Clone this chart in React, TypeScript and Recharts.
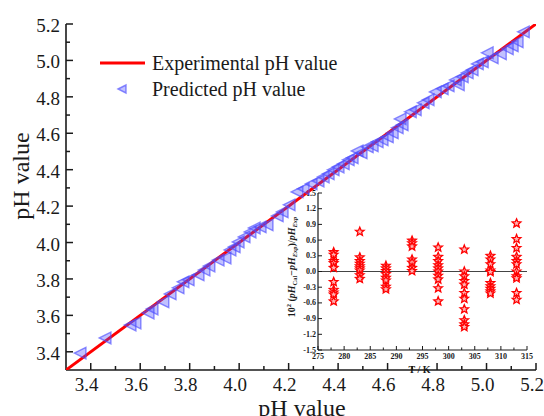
import React from 'react'
import { ScatterChart, Scatter, XAxis, YAxis, Legend, ReferenceLine } from 'recharts'

const SERIF = "'Liberation Serif', 'Times New Roman', Times, serif"
const INK = '#1a1a1a'
const TRI = '#4d4dff'

// measured pH (x) and model prediction (y), one pair per sample
const expPH = [
  3.357, 3.458, 3.559, 3.579, 3.632, 3.648, 3.692, 3.721, 3.753, 3.773,
  3.794, 3.834, 3.858, 3.878, 3.915, 3.943, 3.963, 3.98, 3.996, 4.02,
  4.044, 4.061, 4.085, 4.113, 4.154, 4.174, 4.202, 4.234, 4.259, 4.291,
  4.319, 4.34, 4.36, 4.38, 4.4, 4.421, 4.441, 4.457, 4.477, 4.493,
  4.518, 4.538, 4.558, 4.578, 4.599, 4.619, 4.639, 4.651, 4.659, 4.692,
  4.712, 4.744, 4.764, 4.793, 4.821, 4.845, 4.874, 4.886, 4.902, 4.922,
  4.942, 4.963, 4.983, 5.003, 5.023, 5.056, 5.084, 5.104, 5.124, 5.149,
]
const predPH = [
  3.393, 3.476, 3.547, 3.558, 3.613, 3.635, 3.674, 3.718, 3.751, 3.784,
  3.795, 3.822, 3.849, 3.871, 3.904, 3.915, 3.959, 3.976, 4.003, 4.031,
  4.058, 4.08, 4.086, 4.097, 4.146, 4.168, 4.207, 4.278, 4.295, 4.322,
  4.338, 4.36, 4.377, 4.399, 4.415, 4.432, 4.454, 4.465, 4.503, 4.492,
  4.525, 4.531, 4.553, 4.564, 4.58, 4.602, 4.63, 4.679, 4.646, 4.718,
  4.729, 4.767, 4.784, 4.827, 4.844, 4.86, 4.893, 4.866, 4.91, 4.932,
  4.948, 4.981, 4.992, 5.042, 5.014, 5.036, 5.064, 5.08, 5.102, 5.157,
]

// ends of the experimental (y = x) line
const idealPH = [3.3, 5.2]

const phMajor = [3.4, 3.6, 3.8, 4.0, 4.2, 4.4, 4.6, 4.8, 5.0, 5.2]
const phMinor = [3.5, 3.7, 3.9, 4.1, 4.3, 4.5, 4.7, 4.9, 5.1]

// inset: relative deviation (x100) at each temperature
const tempK = [278, 283, 288, 293, 298, 303, 308, 313]
const dev278 = [0.37, 0.32, 0.2, 0.16, 0.07, -0.2, -0.35, -0.4, -0.44, -0.57]
const dev283 = [0.76, 0.27, 0.2, 0.15, 0.1, 0.06, 0.02, -0.07, -0.14]
const dev288 = [0.11, 0.06, 0.01, -0.05, -0.12, -0.17, -0.29, -0.34]
const dev293 = [0.59, 0.54, 0.48, 0.23, 0.17, 0.07, 0.01]
const dev298 = [0.46, 0.28, 0.2, 0.12, 0.06, 0.0, -0.08, -0.15, -0.32, -0.57]
const dev303 = [0.42, 0.0, -0.09, -0.18, -0.25, -0.41, -0.52, -0.72, -0.93, -1.01, -1.06]
const dev308 = [0.3, 0.23, 0.14, 0.02, -0.01, -0.22, -0.28, -0.33, -0.38, -0.42]
const dev313 = [0.92, 0.62, 0.45, 0.28, 0.2, 0.14, 0.0, -0.09, -0.13, -0.41, -0.54]
const devByTemp = [dev278, dev283, dev288, dev293, dev298, dev303, dev308, dev313]

const tMajor = [275, 280, 285, 290, 295, 300, 305, 310, 315]
const tMinor = [277.5, 282.5, 287.5, 292.5, 297.5, 302.5, 307.5, 312.5]
const devTicks = [-1.5, -1.2, -0.9, -0.6, -0.3, 0.0, 0.3, 0.6, 0.9, 1.2, 1.5]

const points = expPH.map((x, i) => ({ x, y: predPH[i] }))
const idealLine = idealPH.map((v) => ({ x: v, y: v }))
const devPoints = tempK.flatMap((t, i) => devByTemp[i].map((d) => ({ t, d })))

// main plot box, shared by the axes and the tick renderers
const PLOT_LEFT = 66
const PLOT_TOP = 24
const PLOT_RIGHT = 536
const PLOT_BOTTOM = 370

function LeftTriangle({ cx, cy, r = 5.8 }: any) {
  return (
    <path
      d={`M${cx - r},${cy} L${cx + r},${cy - r} L${cx + r},${cy + r} Z`}
      fill={TRI}
      fillOpacity={0.35}
      stroke={TRI}
      strokeOpacity={0.65}
      strokeWidth={1.4}
    />
  )
}

function Star({ cx, cy }: any) {
  const pts: string[] = []
  for (let k = 0; k < 10; k++) {
    const r = k % 2 === 0 ? 4.5 : 2
    const a = -Math.PI / 2 + (k * Math.PI) / 5
    pts.push(`${(cx + r * Math.cos(a)).toFixed(2)},${(cy + r * Math.sin(a)).toFixed(2)}`)
  }
  return <polygon points={pts.join(' ')} fill="#ffb3b3" stroke="#ff0000" strokeWidth={1.3} />
}

function PhXTick({ x, payload }: any) {
  const major = phMajor.includes(payload.value)
  const y = PLOT_BOTTOM
  return (
    <g>
      <line x1={x} y1={y} x2={x} y2={y - (major ? 7 : 4)} stroke={INK} strokeWidth={1.5} />
      {major && (
        <text x={x - 4} y={y + 21} textAnchor="middle" fontSize={19} fontFamily={SERIF} fill={INK}>
          {payload.value.toFixed(1)}
        </text>
      )}
    </g>
  )
}

function PhYTick({ y, payload }: any) {
  const major = phMajor.includes(payload.value)
  const x = PLOT_LEFT
  return (
    <g>
      <line x1={x} y1={y} x2={x + (major ? 7 : 4)} y2={y} stroke={INK} strokeWidth={1.5} />
      {major && (
        <text x={x - 6} y={y + 8} textAnchor="end" fontSize={19} fontFamily={SERIF} fill={INK}>
          {payload.value.toFixed(1)}
        </text>
      )}
    </g>
  )
}

function PhYTitle() {
  return (
    <text transform="translate(29, 176) rotate(-90)" textAnchor="middle" fontSize={24} fontFamily={SERIF} fill={INK}>
      pH value
    </text>
  )
}

function PhXTitle() {
  return (
    <text x={(PLOT_LEFT + PLOT_RIGHT) / 2 + 1} y={416} textAnchor="middle" fontSize={24} fontFamily={SERIF} fill={INK}>
      pH value
    </text>
  )
}

function TXTick({ x, y, payload }: any) {
  const major = tMajor.includes(payload.value)
  return (
    <g>
      <line x1={x} y1={y} x2={x} y2={y - (major ? 4 : 2.5)} stroke={INK} strokeWidth={1} />
      {major && (
        <text x={x} y={y + 8.5} textAnchor="middle" fontSize={8} fontWeight="bold" fontFamily={SERIF} fill={INK}>
          {payload.value}
        </text>
      )}
    </g>
  )
}

function DevYTick({ x, y, payload }: any) {
  return (
    <g>
      <line x1={x} y1={y} x2={x + 4} y2={y} stroke={INK} strokeWidth={1} />
      <text x={x - 2} y={y + 2.5} textAnchor="end" fontSize={8} fontWeight="bold" fontFamily={SERIF} fill={INK}>
        {payload.value.toFixed(1)}
      </text>
    </g>
  )
}

function TTitle({ viewBox }: any) {
  return (
    <text x={viewBox.x + viewBox.width / 2 - 3} y={viewBox.y + 23} textAnchor="middle" fontSize={10} fontWeight="bold" fontFamily={SERIF} fill={INK}>
      T / K
    </text>
  )
}

function DevTitle() {
  const sub = { fontSize: 6.5, fontStyle: 'normal' as const }
  return (
    <text transform="translate(25, 87) rotate(-90)" textAnchor="middle" fontSize={10} fontWeight="bold" fontFamily={SERIF} fill={INK}>
      <tspan>10</tspan>
      <tspan fontSize={6.5} dy={-4}>2</tspan>
      <tspan dy={4}> (</tspan>
      <tspan fontStyle="italic">pH</tspan>
      <tspan {...sub} dy={2}>Cal</tspan>
      <tspan dy={-2}>−</tspan>
      <tspan fontStyle="italic">pH</tspan>
      <tspan {...sub} fontStyle="italic" dy={2}>Exp</tspan>
      <tspan dy={-2}>)/</tspan>
      <tspan fontStyle="italic">pH</tspan>
      <tspan {...sub} fontStyle="italic" dy={2}>Exp</tspan>
    </text>
  )
}

function PhLegend() {
  const row = { display: 'flex', alignItems: 'center', height: 26 }
  return (
    <div style={{ fontFamily: SERIF, fontSize: 20, color: INK, whiteSpace: 'nowrap' }}>
      <div style={row}>
        <svg width={52} height={26}>
          <line x1={4} y1={13} x2={49} y2={13} stroke="#ff0000" strokeWidth={3} />
        </svg>
        <span style={{ marginLeft: 4 }}>Experimental pH value</span>
      </div>
      <div style={row}>
        <svg width={52} height={26}>
          <LeftTriangle cx={26} cy={13} r={4} />
        </svg>
        <span style={{ marginLeft: 4 }}>Predicted pH value</span>
      </div>
    </div>
  )
}

export default function App() {
  return (
    <div style={{ position: 'absolute', left: 0, top: 0, width: 544, height: 416, background: '#fff' }}>
      <div style={{ position: 'absolute', left: 270, top: 180 }}>
        <ScatterChart width={270} height={200} margin={{ top: 13, right: 13, bottom: 0, left: 0 }}>
          <XAxis
            type="number"
            dataKey="t"
            domain={[275, 315]}
            ticks={[...tMajor, ...tMinor].sort((a, b) => a - b)}
            interval={0}
            height={30}
            tickSize={0}
            tickMargin={0}
            tickLine={false}
            tick={<TXTick />}
            axisLine={{ stroke: INK, strokeWidth: 1.2 }}
            label={<TTitle />}
          />
          <YAxis
            type="number"
            dataKey="d"
            domain={[-1.5, 1.5]}
            ticks={devTicks}
            interval={0}
            width={48}
            tickSize={0}
            tickMargin={0}
            tickLine={false}
            tick={<DevYTick />}
            axisLine={{ stroke: INK, strokeWidth: 1.2 }}
            label={<DevTitle />}
          />
          <XAxis xAxisId="frame" orientation="top" height={0} tick={false} tickLine={false} axisLine={{ stroke: INK, strokeWidth: 1.2 }} />
          <YAxis yAxisId="frame" orientation="right" width={0} tick={false} tickLine={false} axisLine={{ stroke: INK, strokeWidth: 1.2 }} />
          <ReferenceLine y={0} stroke="#444" strokeWidth={1} />
          <Scatter data={devPoints} shape={<Star />} isAnimationActive={false} />
        </ScatterChart>
      </div>
      <div style={{ position: 'absolute', left: 0, top: 0 }}>
        <ScatterChart
          width={544}
          height={416}
          margin={{ top: PLOT_TOP, right: 544 - PLOT_RIGHT, bottom: 0, left: 0 }}
        >
          <XAxis
            type="number"
            dataKey="x"
            domain={[3.3, 5.2]}
            ticks={[...phMajor, ...phMinor].sort((a, b) => a - b)}
            interval={0}
            height={416 - PLOT_BOTTOM}
            tickSize={0}
            tickMargin={0}
            tickLine={false}
            tick={<PhXTick />}
            axisLine={{ stroke: INK, strokeWidth: 1.6 }}
            allowDataOverflow
            label={<PhXTitle />}
          />
          <YAxis
            type="number"
            dataKey="y"
            domain={[3.3, 5.2]}
            ticks={[...phMajor, ...phMinor].sort((a, b) => a - b)}
            interval={0}
            width={PLOT_LEFT}
            tickSize={0}
            tickMargin={0}
            tickLine={false}
            tick={<PhYTick />}
            axisLine={{ stroke: INK, strokeWidth: 1.6 }}
            allowDataOverflow
            label={<PhYTitle />}
          />
          <XAxis xAxisId="frame" orientation="top" height={0} tick={false} tickLine={false} axisLine={{ stroke: INK, strokeWidth: 1.6 }} />
          <YAxis yAxisId="frame" orientation="right" width={0} tick={false} tickLine={false} axisLine={{ stroke: INK, strokeWidth: 1.6 }} />
          {/* centred + vertical so the legend does not eat into the plot margins */}
          <Legend
            verticalAlign="middle"
            align="center"
            layout="vertical"
            content={<PhLegend />}
            wrapperStyle={{ left: 96, top: 50, width: 'auto' }}
          />
          <Scatter
            data={idealLine}
            line={{ stroke: '#ff0000', strokeWidth: 3 }}
            shape={() => <g />}
            isAnimationActive={false}
          />
          <Scatter data={points} shape={<LeftTriangle />} isAnimationActive={false} />
        </ScatterChart>
      </div>
    </div>
  )
}
